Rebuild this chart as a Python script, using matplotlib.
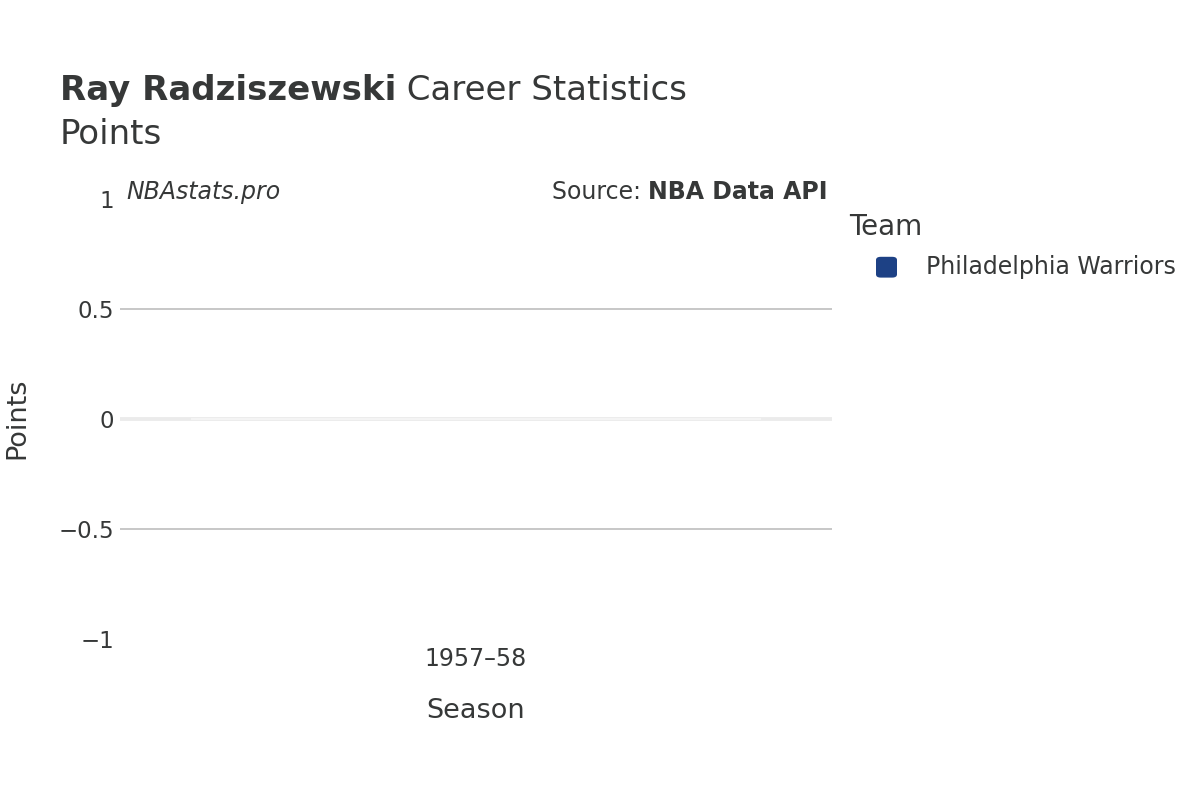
import matplotlib
matplotlib.use("Agg")
import matplotlib.pyplot as plt
from matplotlib.patches import FancyBboxPatch

player = "Ray Radziszewski"
stat_name = "Points"
seasons = ["1957\u201358"]
teams = ["Philadelphia Warriors"]
points = [0]
team_colors = {"Philadelphia Warriors": "#1d4185"}

txt = "#363838"
plt.rcParams['font.family'] = ['DejaVu Sans']

fig = plt.figure(figsize=(12, 8), dpi=100)
ax = fig.add_axes([0.1, 0.20125, 0.5933, 0.55])

x = list(range(len(seasons)))
ax.axhline(0, color='#ebebeb', linewidth=2.8, zorder=1)
ax.bar(x, points, width=0.8, color=[team_colors[t] for t in teams],
       edgecolor='#f7f7f7', linewidth=1.2, zorder=2)

ax.set_xlim(-0.5, len(seasons) - 0.5)
ax.set_ylim(-1, 1)
ax.set_yticks([-1, -0.5, 0, 0.5, 1])
ax.set_yticklabels(["\u22121", "\u22120.5", "0", "0.5", "1"])
for yv in [-0.5, 0.5]:
    ax.axhline(yv, color='#bdbdbd', linewidth=1.2, zorder=0)
ax.set_xticks(x)
ax.set_xticklabels(seasons)
ax.tick_params(axis='both', length=0, labelsize=16.5, labelcolor=txt)
ax.tick_params(axis='x', labelsize=17, pad=6)
ax.tick_params(axis='y', pad=4)
for sp in ax.spines.values():
    sp.set_visible(False)

ax.set_xlabel("Season", fontsize=19.5, color=txt, labelpad=19)
fig.text(17 / 1200, 1 - 418 / 800, "Points", fontsize=19.5, color=txt,
         rotation=90, va='center', ha='center')

# title
fig.text(0.05, 0.887, player, fontsize=24.5, fontweight='bold', color=txt, va='center')
t = fig.text(0.05, 0.887, "", fontsize=24.5, color=txt, va='center')
fig.canvas.draw()
r = fig.canvas.get_renderer()
bb = fig.texts[1].get_window_extent(r)
t.set_text(" Career Statistics")
t.set_x(bb.x1 / 1200)
fig.text(0.05, 0.832, stat_name, fontsize=24.5, color=txt, va='center')

fig.text(0.105, 0.76, "NBAstats.pro", fontsize=17, style='italic', color=txt, va='center')
s1 = fig.text(0.69, 0.76, "NBA Data API", fontsize=17, fontweight='bold', color=txt,
              va='center', ha='right')
fig.canvas.draw()
bb2 = s1.get_window_extent(r)
fig.text(bb2.x0 / 1200, 0.76, "Source: ", fontsize=17, color=txt, va='center', ha='right')

# legend
fig.text(0.708, 0.716, "Team", fontsize=20, color=txt, va='center')
for i, tm in enumerate(teams):
    yy = 0.666 - i * 0.04
    fig.patches.append(FancyBboxPatch((0.73, yy - 0.013), 0.0175, 0.026,
                                      boxstyle="round,pad=0,rounding_size=0.004",
                                      transform=fig.transFigure, facecolor=team_colors[tm],
                                      edgecolor='none'))
    fig.text(0.772, yy, tm, fontsize=17, color=txt, va='center')

fig.savefig("out.png", dpi=100)
